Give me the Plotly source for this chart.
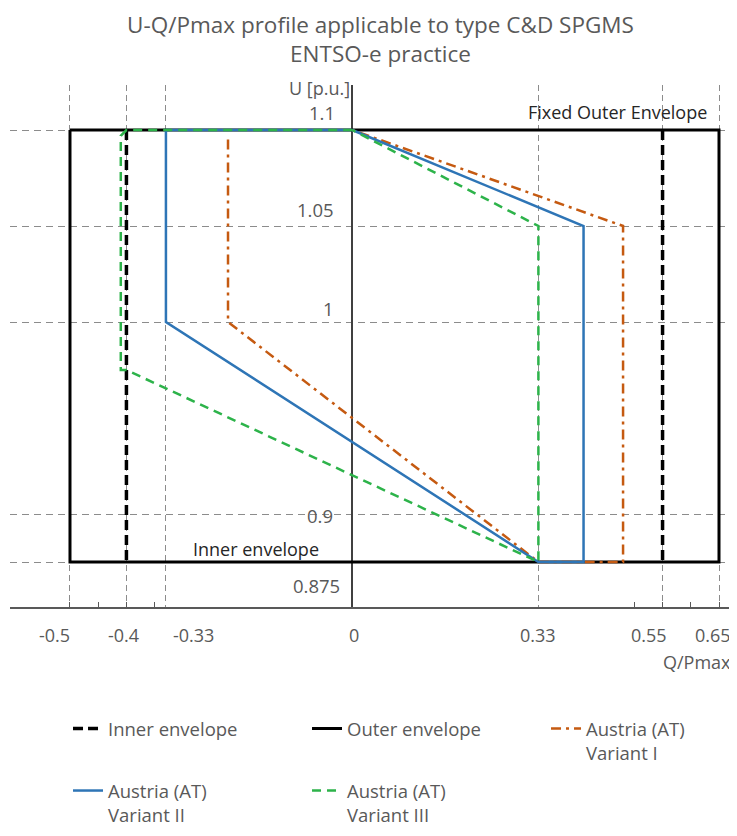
import plotly.graph_objects as go

# ---------------- data ----------------
outer_q = [-0.5, 0.65, 0.65, -0.5, -0.5]
outer_u = [1.1, 1.1, 0.875, 0.875, 1.1]

inner_q = [-0.4, -0.4, None, 0.55, 0.55]
inner_u = [1.1, 0.875, None, 1.1, 0.875]

v1_q = [-0.22, -0.22, 0.33, 0.48, 0.48, 0.0]
v1_u = [1.095, 1.0, 0.875, 0.875, 1.05, 1.1]

v2_q = [0.0, -0.33, -0.33, 0.33, 0.41, 0.41, 0.0]
v2_u = [1.1, 1.1, 1.0, 0.875, 0.875, 1.05, 1.1]

v3_q = [0.0, -0.4, -0.41, -0.41, -0.4, 0.33, 0.33, 0.0]
v3_u = [1.1, 1.1, 1.097, 0.975, 0.975, 0.875, 1.05, 1.1]

x_grid = [-0.5, -0.4, -0.33, 0.33, 0.55, 0.65]
x_labels = ["-0.5", "-0.4", "-0.33", "0", "0.33", "0.55", "0.65"]
x_label_vals = [-0.5, -0.4, -0.33, 0.0, 0.33, 0.55, 0.65]
x_minor = [-0.5, -0.45, -0.4, -0.35, 0.5, 0.55, 0.6, 0.65]

y_grid = [1.1, 1.05, 1.0, 0.9, 0.875]
y_labels = ["1.1", "1.05", "1", "0.9", "0.875"]

names = ["Inner envelope", "Outer envelope", "Austria (AT)<br>Variant I",
         "Austria (AT)<br>Variant II", "Austria (AT)<br>Variant III"]

title_text = "U-Q/Pmax profile applicable to type C&D SPGMS<br>ENTSO-e practice"

# ---------------- styles ----------------
x_label_shift = [-15, -3, 28, 2, 0, -14, -6]
y_label_shift = [(-15, 18), (-16, 17), (-16, 14), (-17, -1), (-10, -23)]
label_color = "#595959"
dark_text = "#262626"
font_family = "Open Sans"

fig = go.Figure()

fig.add_trace(go.Scatter(x=outer_q, y=outer_u, mode="lines", name=names[1],
                         line=dict(color="#000000", width=3), legendrank=2,
                         legend="legend"))
fig.add_trace(go.Scatter(x=inner_q, y=inner_u, mode="lines", name=names[0],
                         line=dict(color="#000000", width=3.5, dash="10px,5px"),
                         legendrank=1, legend="legend"))
fig.add_trace(go.Scatter(x=v1_q, y=v1_u, mode="lines", name=names[2],
                         line=dict(color="#C55A11", width=2.5, dash="10px,5px,3px,5px"),
                         legendrank=3, legend="legend", legendwidth=120))
fig.add_trace(go.Scatter(x=v2_q, y=v2_u, mode="lines", name=names[3],
                         line=dict(color="#2E75B6", width=2.5), legendrank=4,
                         legend="legend2"))
fig.add_trace(go.Scatter(x=v3_q, y=v3_u, mode="lines", name=names[4],
                         line=dict(color="#2DB34A", width=2.5, dash="9px,6px"),
                         legendrank=5, legend="legend2"))

annotations = [dict(x=0.5103, y=599 / 522, xref="paper", yref="paper", text=title_text,
                    showarrow=False, xanchor="center", yanchor="top", borderpad=0,
                    font=dict(size=22.5, color=label_color, family=font_family))]
for v, t, s in zip(x_label_vals, x_labels, x_label_shift):
    annotations.append(dict(x=v, y=0, xref="x", yref="paper", text=t, showarrow=False,
                            xanchor="center", yanchor="middle", xshift=s, yshift=-28,
                            font=dict(size=18, color=label_color, family=font_family)))
for v, t, (sx, sy) in zip(y_grid, y_labels, y_label_shift):
    annotations.append(dict(x=0, y=v, xref="x", yref="y", text=t, showarrow=False,
                            xanchor="right", yanchor="middle", xshift=sx, yshift=sy,
                            font=dict(size=18.5, color=label_color, family=font_family)))
annotations += [
    dict(x=0, y=1, xref="x", yref="paper", text="U [p.u.]", showarrow=False,
         xanchor="right", yanchor="middle", xshift=0, yshift=-3,
         font=dict(size=18, color=label_color, family=font_family)),
    dict(x=1, y=0, xref="paper", yref="paper", text="Q/Pmax", showarrow=False,
         xanchor="right", yanchor="middle", xshift=-4, yshift=-55,
         font=dict(size=18, color=label_color, family=font_family)),
    dict(x=0.65, y=1.1, xref="x", yref="y", text="Fixed Outer Envelope", showarrow=False,
         xanchor="right", yanchor="middle", xshift=-10, yshift=18,
         font=dict(size=18, color=dark_text, family=font_family)),
    dict(x=-0.17, y=0.875, xref="x", yref="y", text="Inner envelope", showarrow=False,
         xanchor="center", yanchor="middle", xshift=0, yshift=13,
         font=dict(size=18, color=dark_text, family=font_family)),
]

legend_common = dict(orientation="h", x=0.0798, xanchor="left", yanchor="top",
                     entrywidth=194, entrywidthmode="pixels", valign="top",
                     font=dict(size=18.5, color=label_color, family=font_family),
                     bgcolor="rgba(0,0,0,0)")

fig.update_layout(
    width=729, height=820,
    margin=dict(l=2, r=0, t=77, b=221, autoexpand=False),
    paper_bgcolor="white", plot_bgcolor="white",
    font=dict(family=font_family, color=label_color),
    xaxis=dict(range=[-0.6063, 0.6819], tickvals=x_grid, showticklabels=False,
               ticks="", showgrid=True, gridcolor="#8c8c8c", gridwidth=1.2,
               griddash="6px,4px", zeroline=True, zerolinecolor="#404040",
               zerolinewidth=1.5, showline=True, linecolor="#595959", linewidth=1.5,
               minor=dict(tickvals=x_minor, ticks="inside", ticklen=5,
                          tickcolor="#595959", tickwidth=1, showgrid=False)),
    yaxis=dict(range=[0.85156, 1.12344], tickvals=y_grid, showticklabels=False,
               ticks="", showgrid=True, gridcolor="#8c8c8c", gridwidth=1.3,
               griddash="7px,5px", zeroline=False, showline=False),
    legend=dict(legend_common, y=-0.1973),
    legend2=dict(legend_common, y=-0.3161),
    showlegend=True,
    annotations=annotations,
)

fig.write_html("out.html")
